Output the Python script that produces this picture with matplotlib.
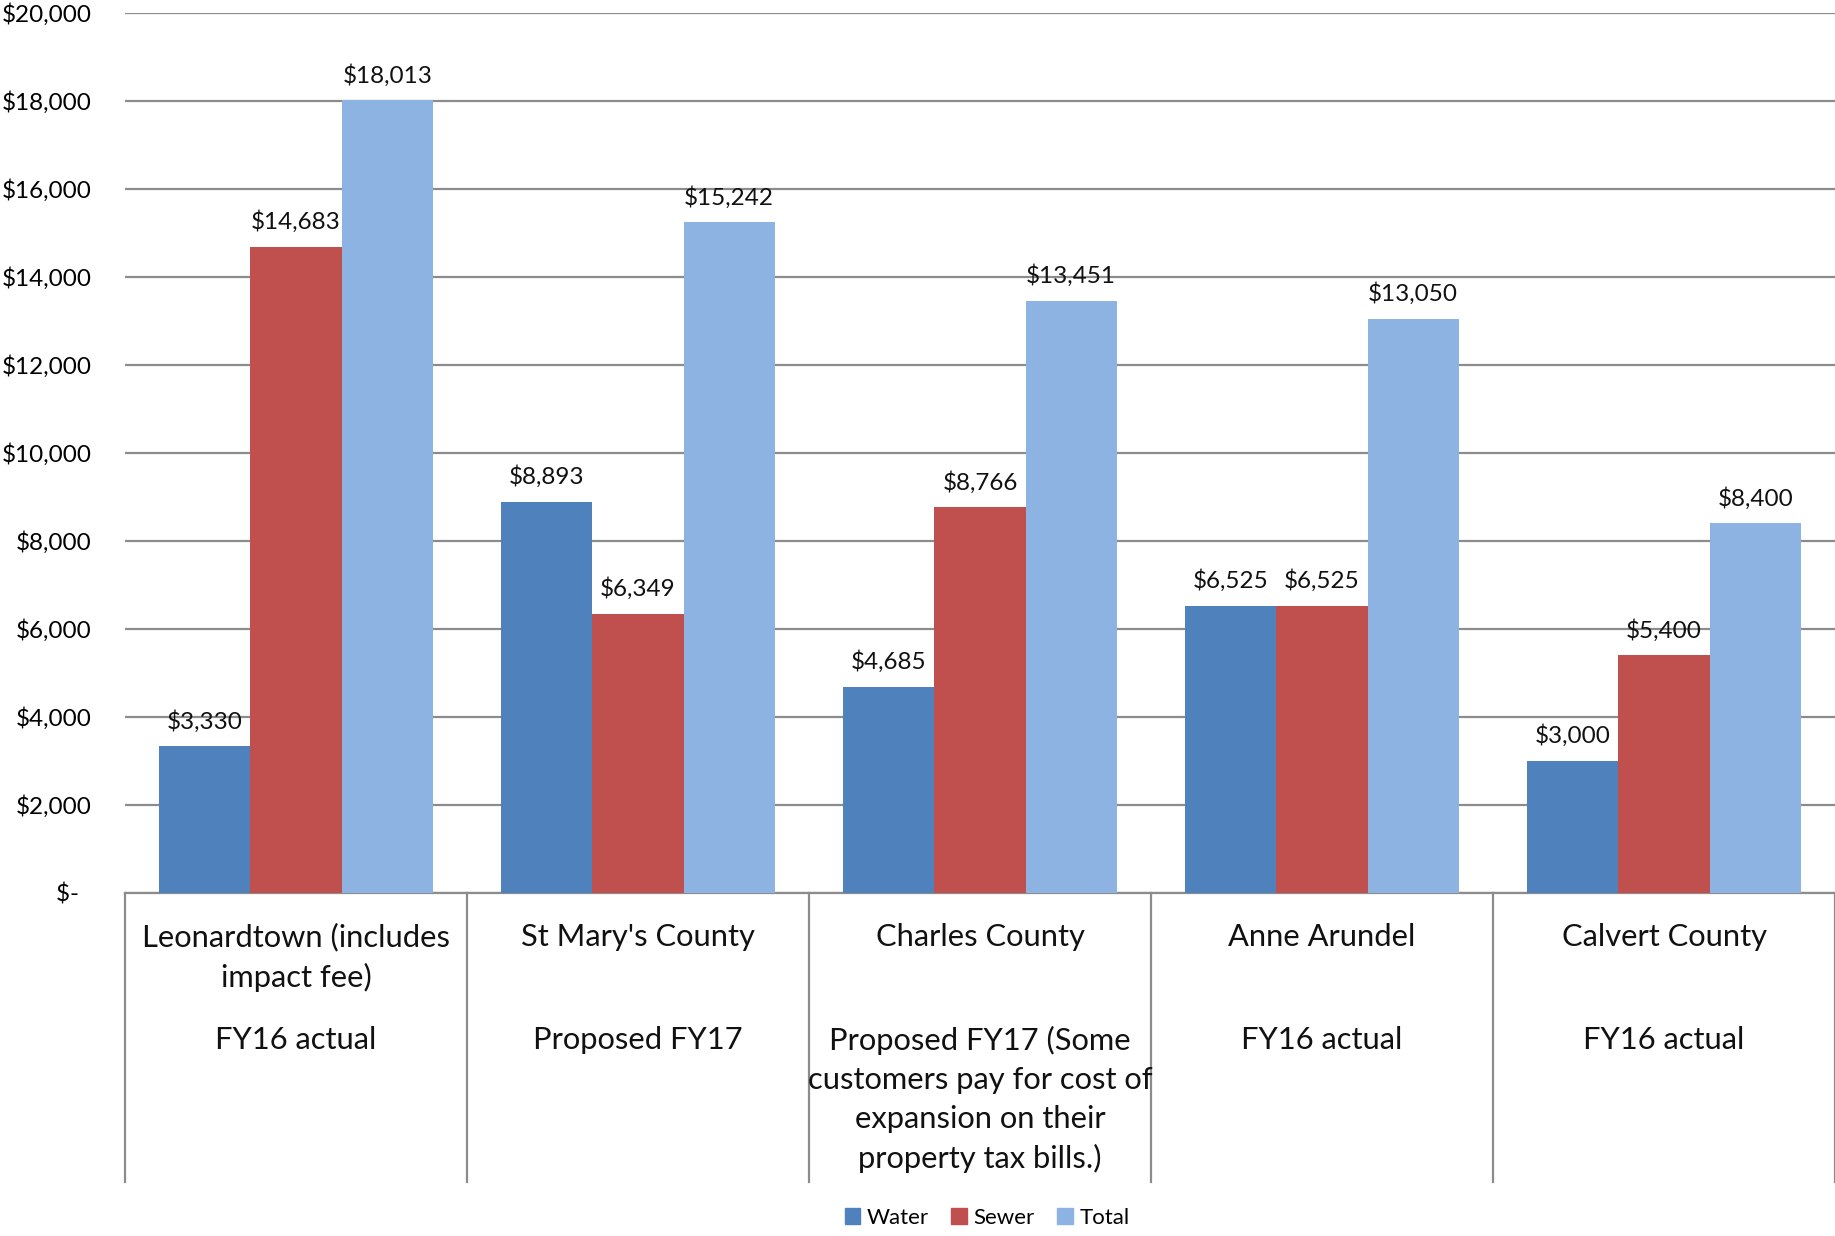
import matplotlib
matplotlib.use("Agg")
import matplotlib.pyplot as plt
import matplotlib.transforms as mtransforms
import numpy as np

plt.rcParams['font.family'] = ['Lato', 'DejaVu Sans']

categories = ["Leonardtown (includes\nimpact fee)", "St Mary's County", "Charles County",
              "Anne Arundel", "Calvert County"]
statuses = ["FY16 actual", "Proposed FY17",
            "Proposed FY17 (Some\ncustomers pay for cost of\nexpansion on their\nproperty tax bills.)",
            "FY16 actual", "FY16 actual"]
series_names = ["Water", "Sewer", "Total"]
water = [3330, 8893, 4685, 6525, 3000]
sewer = [14683, 6349, 8766, 6525, 5400]
total = [18013, 15242, 13451, 13050, 8400]
yticks = list(range(0, 20001, 2000))

colors = ["#4F81BD", "#C0504D", "#8DB3E2"]

W, H = 1835, 1236
fig = plt.figure(figsize=(W / 100, H / 100), dpi=100)
ax = fig.add_axes([125 / W, 1 - 893 / H, 1 - 125 / W, (893 - 13) / H])

x = np.arange(len(categories))
bw = 0.8 / 3
for i, (name, vals) in enumerate(zip(series_names, [water, sewer, total])):
    bars = ax.bar(x + (i - 1) * bw, vals, width=bw, color=colors[i], label=name, zorder=3)
    for b, v in zip(bars, vals):
        ax.annotate(f"${v:,}", (b.get_x() + b.get_width() / 2, v), xytext=(0, 10),
                    textcoords="offset points", ha="center", va="bottom", fontsize=17.5,
                    color="#111111")

ax.set_xlim(-0.5, len(categories) - 0.5)
ax.set_ylim(0, 20000)
ax.set_yticks(yticks)
ax.set_yticklabels([f"${v:,}" if v else "$-  " for v in yticks], fontsize=17.5)
ax.tick_params(axis='y', length=0, pad=24)
ax.set_xticks([])
ax.yaxis.grid(True, color="#8c8c8c", linewidth=1.6, zorder=0)
ax.set_axisbelow(True)
for s in ["left", "right", "top"]:
    ax.spines[s].set_visible(False)
ax.spines["bottom"].set_color("#8c8c8c")
ax.spines["bottom"].set_linewidth(1.6)

trans = mtransforms.blended_transform_factory(ax.transData, ax.transAxes)
ax_h = 893 - 13
sep_bottom = -(1182 - 893) / ax_h
for xs in np.arange(-0.5, len(categories), 1.0):
    ax.plot([xs, xs], [0, sep_bottom], transform=trans, color="#8c8c8c", lw=1.6, clip_on=False)

for xi, (c, s) in enumerate(zip(categories, statuses)):
    ax.text(xi, -(923 - 893) / ax_h, c, transform=trans, ha="center", va="top",
            fontsize=22.2, linespacing=1.47, color="#111111")
    ax.text(xi, -(1026 - 893) / ax_h, s, transform=trans, ha="center", va="top",
            fontsize=22.2, linespacing=1.47, color="#111111")

handles = [plt.Rectangle((0, 0), 1, 1, color=c) for c in colors]
fig.legend(handles, series_names, loc="center", bbox_to_anchor=(987 / W, 1 - 1218 / H),
           ncol=3, frameon=False, fontsize=16, handlelength=0.7, handleheight=0.7,
           handletextpad=0.3, columnspacing=1.0)

fig.savefig("out.png", dpi=100)
